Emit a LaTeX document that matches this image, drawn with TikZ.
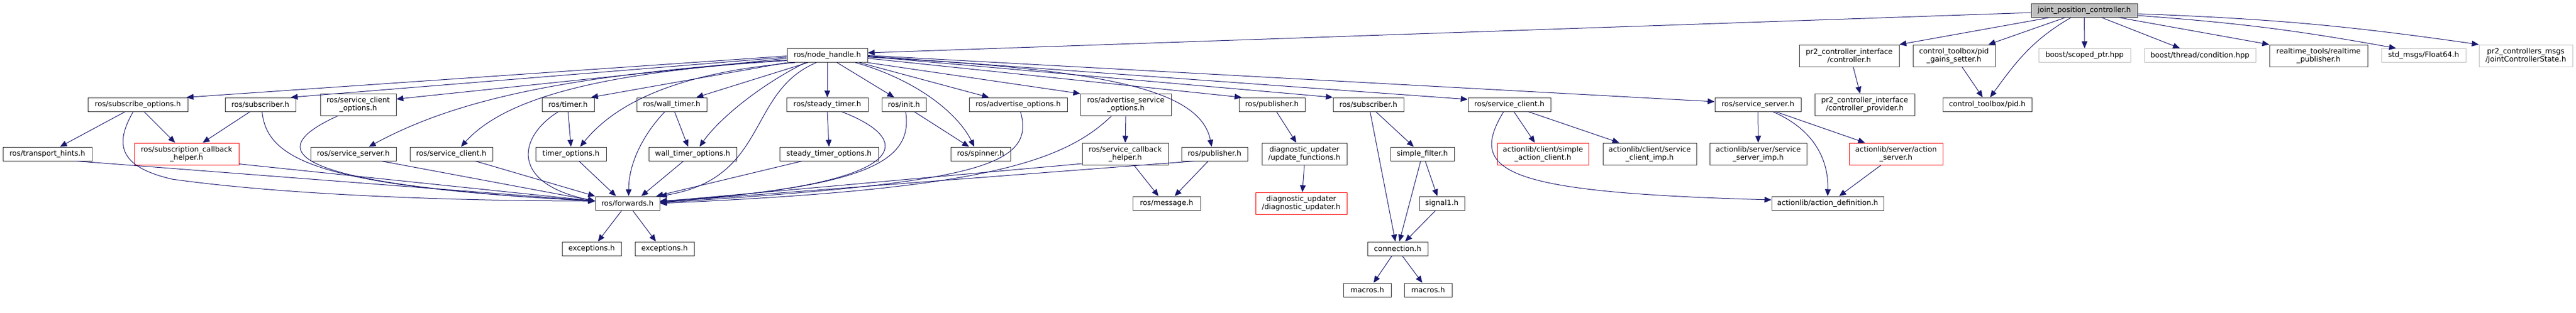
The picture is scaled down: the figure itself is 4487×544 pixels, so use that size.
\documentclass[tikz,border=0pt]{standalone}
\usepackage{fontspec}
\usetikzlibrary{arrows.meta}
\newfontfamily\graphfont{DejaVu Sans}
\definecolor{midnight}{HTML}{191970}
\definecolor{grey75}{HTML}{BFBFBF}
\tikzset{
	hdr/.style={draw=black!80, line width=1pt, inner sep=0pt, minimum height=24pt, align=center,
		font={\graphfont\fontsize{12.7}{14.3}\selectfont}},
	twoline/.style={minimum height=38pt},
	trunc/.style={draw=red},
	extern/.style={draw=grey75},
	main/.style={fill=grey75},
	dep/.style={draw=midnight, line width=1pt, -{Triangle[length=12pt,width=10pt]}},
}
\begin{document}
\begin{tikzpicture}[x=1pt,y=1pt]
	\useasboundingbox (0,0) rectangle (4487,-544);
	% the file itself
	\node[hdr,main,minimum width=185pt] (jpc) at (3630.5,-18) {joint\_position\_controller.h};
	% first level
	\node[hdr,minimum width=140pt] (nh) at (1441,-96.5) {ros/node\_handle.h};
	\node[hdr,twoline,minimum width=174pt] (ctrl) at (3221,-97) {pr2\_controller\_interface\\/controller.h};
	\node[hdr,twoline,minimum width=143pt] (pgs) at (3403.5,-97) {control\_toolbox/pid\\\_gains\_setter.h};
	\node[hdr,extern,minimum width=160pt] (scoped) at (3631,-96.5) {boost/scoped\_ptr.hpp};
	\node[hdr,extern,minimum width=194pt] (cond) at (3832,-96.5) {boost/thread/condition.hpp};
	\node[hdr,twoline,minimum width=171pt] (rtp) at (4038.5,-97) {realtime\_tools/realtime\\\_publisher.h};
	\node[hdr,extern,minimum width=147pt] (f64) at (4221.5,-96.5) {std\_msgs/Float64.h};
	\node[hdr,twoline,extern,minimum width=163pt] (jcs) at (4399.5,-97) {pr2\_controllers\_msgs\\/JointControllerState.h};
	% second level
	\node[hdr,minimum width=174pt] (subopt) at (240,-182) {ros/subscribe\_options.h};
	\node[hdr,minimum width=123pt] (subl) at (453.5,-182) {ros/subscriber.h};
	\node[hdr,twoline,minimum width=132pt] (sco) at (624,-182.5) {ros/service\_client\\\_options.h};
	\node[hdr,minimum width=91pt] (timer) at (989.5,-182) {ros/timer.h};
	\node[hdr,minimum width=122pt] (wtimer) at (1170,-182) {ros/wall\_timer.h};
	\node[hdr,minimum width=142pt] (stimer) at (1441,-182) {ros/steady\_timer.h};
	\node[hdr,minimum width=77pt] (init) at (1574.5,-182) {ros/init.h};
	\node[hdr,minimum width=171pt] (advopt) at (1773.5,-182) {ros/advertise\_options.h};
	\node[hdr,twoline,minimum width=158pt] (advsrv) at (1961,-182.5) {ros/advertise\_service\\\_options.h};
	\node[hdr,minimum width=115pt] (pubu) at (2215.5,-182) {ros/publisher.h};
	\node[hdr,minimum width=123pt] (subu) at (2383.5,-182) {ros/subscriber.h};
	\node[hdr,minimum width=144pt] (sclu) at (2629,-182) {ros/service\_client.h};
	\node[hdr,minimum width=150pt] (ssvu) at (3062,-182) {ros/service\_server.h};
	\node[hdr,twoline,minimum width=174pt] (prov) at (3248,-182.5) {pr2\_controller\_interface\\/controller\_provider.h};
	\node[hdr,minimum width=155pt] (pid) at (3461.5,-182) {control\_toolbox/pid.h};
	% third level
	\node[hdr,minimum width=155pt] (thints) at (82.5,-268) {ros/transport\_hints.h};
	\node[hdr,twoline,trunc,minimum width=182pt] (sch) at (325,-268) {ros/subscription\_callback\\\_helper.h};
	\node[hdr,minimum width=149pt] (ssvl) at (615.5,-268) {ros/service\_server.h};
	\node[hdr,minimum width=144pt] (scll) at (786,-268) {ros/service\_client.h};
	\node[hdr,minimum width=123pt] (topt) at (994.5,-268) {timer\_options.h};
	\node[hdr,minimum width=153pt] (wtopt) at (1206.5,-268) {wall\_timer\_options.h};
	\node[hdr,minimum width=172pt] (stopt) at (1444,-268) {steady\_timer\_options.h};
	\node[hdr,minimum width=104pt] (spin) at (1708,-268) {ros/spinner.h};
	\node[hdr,twoline,minimum width=150pt] (svcb) at (1960,-268) {ros/service\_callback\\\_helper.h};
	\node[hdr,minimum width=115pt] (publ) at (2115.5,-268) {ros/publisher.h};
	\node[hdr,twoline,minimum width=148pt] (updf) at (2272,-268) {diagnostic\_updater\\/update\_functions.h};
	\node[hdr,minimum width=111pt] (sfilt) at (2477.5,-268) {simple\_filter.h};
	\node[hdr,twoline,trunc,minimum width=159pt] (sac) at (2687.5,-268) {actionlib/client/simple\\\_action\_client.h};
	\node[hdr,twoline,minimum width=163pt] (scimp) at (2873.5,-268) {actionlib/client/service\\\_client\_imp.h};
	\node[hdr,twoline,minimum width=169pt] (ssimp) at (3062.5,-268) {actionlib/server/service\\\_server\_imp.h};
	\node[hdr,twoline,trunc,minimum width=163pt] (asrv) at (3302.5,-268) {actionlib/server/action\\\_server.h};
	% fourth level and below
	\node[hdr,minimum width=112pt] (fwd) at (1093,-354) {ros/forwards.h};
	\node[hdr,minimum width=118pt] (msg) at (2032,-354) {ros/message.h};
	\node[hdr,twoline,trunc,minimum width=159pt] (diag) at (2266.5,-354) {diagnostic\_updater\\/diagnostic\_updater.h};
	\node[hdr,minimum width=79pt] (sig) at (2511.5,-354) {signal1.h};
	\node[hdr,minimum width=195pt] (adef) at (3183.5,-354) {actionlib/action\_definition.h};
	\node[hdr,minimum width=103pt] (exc1) at (1030.5,-433) {exceptions.h};
	\node[hdr,minimum width=103pt] (exc2) at (1157.5,-433) {exceptions.h};
	\node[hdr,minimum width=105pt] (conn) at (2434.5,-433) {connection.h};
	\node[hdr,minimum width=83pt] (mac1) at (2381.5,-505) {macros.h};
	\node[hdr,minimum width=83pt] (mac2) at (2487.5,-505) {macros.h};

	% includes of the file itself
	\draw[dep] ([yshift=-4pt]jpc.west) -- ([yshift=4.5pt]nh.east);
	\draw[dep] ([xshift=-60pt]jpc.south) -- (ctrl.north east);
	\draw[dep] ([xshift=-33pt]jpc.south) -- ([xshift=60pt]pgs.north);
	\draw[dep] ([xshift=-23pt]jpc.south) to[out=210,in=54] ([xshift=5pt]pid.north);
	\draw[dep] (jpc.south) -- (scoped.north);
	\draw[dep] ([xshift=30pt]jpc.south) -- ([xshift=-35pt]cond.north);
	\draw[dep] ([xshift=60pt]jpc.south) -- (rtp.north west);
	\draw[dep] ([yshift=-9pt]jpc.east) to[bend left=3] ([xshift=-48pt]f64.north);
	\draw[dep] ([yshift=-6pt]jpc.east) to[bend left=3] (jcs.north west);
	\draw[dep] ([xshift=7pt]ctrl.south) -- ([xshift=-8pt]prov.north);
	\draw[dep] ([xshift=14pt]pgs.south) -- ([xshift=-8pt]pid.north);

	% ros/node_handle.h
	\draw[dep] ([yshift=-1pt]nh.west) -- ([xshift=85pt]subopt.north);
	\draw[dep] ([yshift=-3pt]nh.west) -- ([xshift=53pt]subl.north);
	\draw[dep] ([yshift=-5pt]nh.west) -- ([yshift=10pt]sco.east);
	\draw[dep] ([yshift=-8pt]nh.west) .. controls (1000,-130) and (800,-170) .. ([xshift=27pt]ssvl.north);
	\draw[dep] ([yshift=-9pt]nh.west) .. controls (1050,-125) and (880,-170) .. ([xshift=17pt]scll.north);
	\draw[dep] (nh.south west) -- ([xshift=40pt]timer.north);
	\draw[dep] ([xshift=-56pt]nh.south) .. controls (1200,-125) and (1080,-170) .. ([xshift=16pt]topt.north);
	\draw[dep] ([xshift=-34pt]nh.south) -- ([xshift=43pt]wtimer.north);
	\draw[dep] ([xshift=-38pt]nh.south) .. controls (1320,-150) and (1250,-210) .. ([xshift=12pt]wtopt.north);
	\draw[dep] ([xshift=-19pt]nh.south) .. controls (1300,-160) and (1340,-310) .. (fwd.north east);
	\draw[dep] (nh.south) -- (stimer.north);
	\draw[dep] ([xshift=17pt]nh.south) -- ([xshift=-17pt]init.north);
	\draw[dep] ([xshift=49pt]nh.south) .. controls (1600,-140) and (1670,-200) .. ([xshift=-11pt]spin.north);
	\draw[dep] ([xshift=56pt]nh.south) -- ([xshift=-51pt]advopt.north);
	\draw[dep] (nh.south east) -- (advsrv.north west);
	\draw[dep] ([yshift=-5pt]nh.east) -- ([xshift=-53pt]pubu.north);
	\draw[dep] ([yshift=-3pt]nh.east) .. controls (1900,-120) and (2090,-150) .. ([xshift=-5pt]publ.north);
	\draw[dep] ([yshift=-2pt]nh.east) -- (subu.north west);
	\draw[dep] ([yshift=-1pt]nh.east) -- ([yshift=9pt]sclu.west);
	\draw[dep] (nh.east) -- ([yshift=5pt]ssvu.west);

	% left part
	\draw[dep] ([xshift=-22pt]subopt.south) -- ([xshift=22pt]thints.north);
	\draw[dep] ([xshift=11pt]subopt.south) -- ([xshift=-20pt]sch.north);
	\draw[dep] ([xshift=-8pt]subopt.south) .. controls (200,-250) and (205,-290) .. (300,-312)
		.. controls (500,-340) and (800,-350) .. ([yshift=4pt]fwd.west);
	\draw[dep] ([xshift=-18pt]subl.south) -- ([xshift=28pt]sch.north);
	\draw[dep] ([xshift=3pt]subl.south) .. controls (465,-280) and (560,-325) .. ([yshift=4pt]fwd.west);
	\draw[dep] ([xshift=-36pt]sco.south) .. controls (460,-260) and (480,-320) .. ([yshift=4pt]fwd.west);
	\draw[dep] ([xshift=51pt]thints.south) -- ([yshift=4pt]fwd.west);
	\draw[dep] ([yshift=2pt]sch.south east) -- ([yshift=4pt]fwd.west);
	\draw[dep] ([xshift=49pt]ssvl.south) -- ([yshift=4pt]fwd.west);
	\draw[dep] ([xshift=42pt]scll.south) -- (fwd.north west);
	\draw[dep] ([xshift=-17pt]timer.south) .. controls (900,-240) and (890,-320) .. ([yshift=4pt]fwd.west);
	\draw[dep] (timer.south) -- (topt.north);
	\draw[dep] ([xshift=14pt]topt.south) -- ([xshift=-20pt]fwd.north);
	\draw[dep] ([xshift=5pt]wtimer.south) -- ([xshift=-8pt]wtopt.north);
	\draw[dep] ([xshift=-12pt]wtimer.south) .. controls (1115,-240) and (1095,-290) .. ([xshift=2pt]fwd.north);
	\draw[dep] ([xshift=-16pt]wtopt.south) -- ([xshift=24pt]fwd.north);
	\draw[dep] (stimer.south) -- (stopt.north);
	\draw[dep] ([xshift=25pt]stimer.south) .. controls (1610,-250) and (1570,-325) .. ([yshift=4pt]fwd.east);
	\draw[dep] ([xshift=-47pt]stopt.south) -- ([xshift=50pt]fwd.north);
	\draw[dep] ([xshift=18pt]init.south) -- ([xshift=-20pt]spin.north);
	\draw[dep] ([xshift=3pt]init.south) .. controls (1592,-285) and (1500,-325) .. ([yshift=2pt]fwd.east);
	\draw[dep] ([xshift=4pt]advopt.south) .. controls (1805,-290) and (1700,-318) .. ([yshift=1pt]fwd.east);
	\draw[dep] ([xshift=-25pt]advsrv.south) .. controls (1850,-285) and (1700,-330) .. (fwd.east);
	\draw[dep] (advsrv.south) -- (svcb.north);
	\draw[dep] ([xshift=15pt]svcb.south) -- ([xshift=-14pt]msg.north);
	\draw[dep] ([yshift=-17pt]svcb.west) -- ([yshift=3pt]fwd.east);
	\draw[dep] ([xshift=-11pt]publ.south) -- ([xshift=14pt]msg.north);
	\draw[dep] ([xshift=-35pt]publ.south) -- ([yshift=2pt]fwd.east);
	\draw[dep] ([xshift=-10pt]fwd.south) -- ([xshift=11pt]exc1.north);
	\draw[dep] ([xshift=9pt]fwd.south) -- ([xshift=-15pt]exc2.north);

	% right part
	\draw[dep] ([xshift=8pt]pubu.south) -- ([xshift=-14pt]updf.north);
	\draw[dep] (updf.south) -- ([xshift=2pt]diag.north);
	\draw[dep] ([xshift=3pt]subu.south) -- ([xshift=-4pt]conn.north);
	\draw[dep] ([xshift=13pt]subu.south) -- ([xshift=-15pt]sfilt.north);
	\draw[dep] ([xshift=-3pt]sfilt.south) -- ([xshift=3pt]conn.north);
	\draw[dep] ([xshift=5pt]sfilt.south) -- ([xshift=-8pt]sig.north);
	\draw[dep] ([xshift=-11pt]sig.south) -- ([xshift=13pt]conn.north);
	\draw[dep] ([xshift=-10pt]conn.south) -- ([xshift=11pt]mac1.north);
	\draw[dep] ([xshift=8pt]conn.south) -- ([xshift=-10pt]mac2.north);
	\draw[dep] ([xshift=8pt]sclu.south) -- ([xshift=-14pt]sac.north);
	\draw[dep] ([xshift=33pt]sclu.south) -- ([xshift=-53pt]scimp.north);
	\draw[dep] ([xshift=-10pt]sclu.south) .. controls (2555,-300) and (2620,-335) .. ([yshift=6pt]adef.west);
	\draw[dep] (ssvu.south) -- (ssimp.north);
	\draw[dep] ([xshift=26pt]ssvu.south) .. controls (3170,-230) and (3185,-290) .. (adef.north);
	\draw[dep] ([xshift=31pt]ssvu.south) -- ([xshift=-54pt]asrv.north);
	\draw[dep] ([xshift=-26pt]asrv.south) -- ([xshift=20pt]adef.north);
\end{tikzpicture}
\end{document}
